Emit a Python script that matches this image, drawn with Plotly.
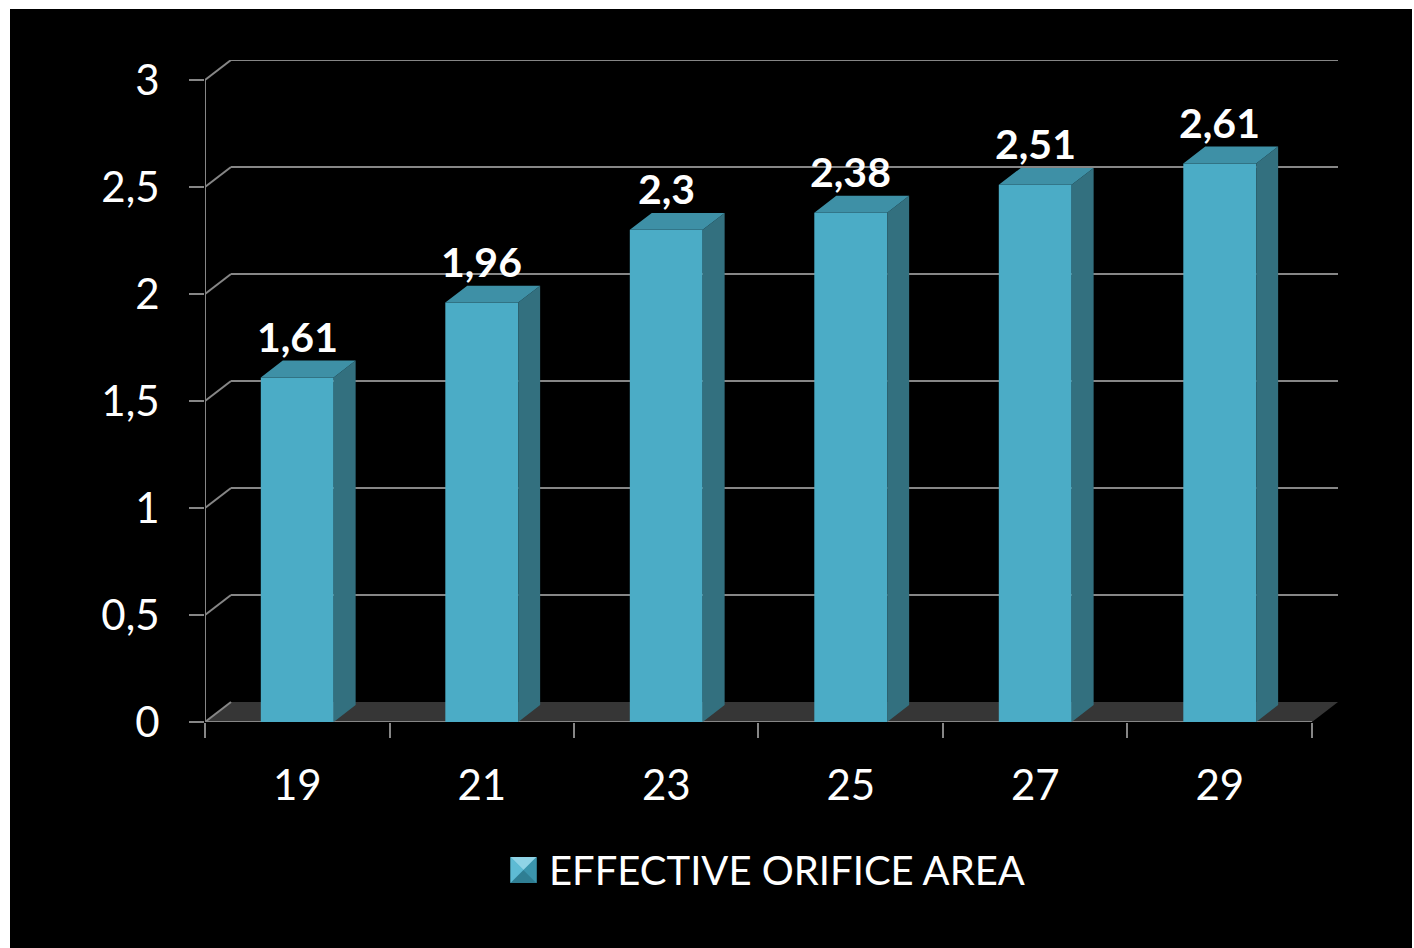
import plotly.graph_objects as go

# Valve sizes (mm) and mean effective orifice area (cm²)
sizes = ["19", "21", "23", "25", "27", "29"]
eoa = [1.61, 1.96, 2.3, 2.38, 2.51, 2.61]
value_labels = ["1,61", "1,96", "2,3", "2,38", "2,51", "2,61"]
y_ticks = [0, 0.5, 1, 1.5, 2, 2.5, 3]
y_tick_labels = ["0", "0,5", "1", "1,5", "2", "2,5", "3"]
series_name = "EFFECTIVE ORIFICE AREA"

FONT = "Lato"
FRONT = "#4BACC6"
SIDE = "#33707F"
TOP = "#3E90A6"
GRID = "#868686"
FLOOR = "#363636"

# pseudo-3D geometry in data units
BAR_W = 0.395
BAR_DX, BAR_DY = 0.119, 0.079
WALL_DX, WALL_DY = 0.141, 0.0935

xpos = list(range(len(sizes)))
n = len(sizes)
x_lo, x_hi = -0.5, n - 0.5

# figure pixel layout
W, H = 1414, 948
ML, MR, MT, MB = 205, 76, 60, 226
PW, PH = W - ML - MR, H - MT - MB


def px(p):
    return (p - ML) / PW


def py(q):
    return (H - MB - q) / PH


fig = go.Figure()

# front faces
fig.add_trace(go.Bar(
    x=xpos, y=eoa, width=BAR_W, marker=dict(color=FRONT, line=dict(width=0)),
    name=series_name, showlegend=False, hoverinfo="skip",
))

# side and top faces
side_x, side_y, top_x, top_y = [], [], [], []
for x, v in zip(xpos, eoa):
    r = x + BAR_W / 2
    l = x - BAR_W / 2
    side_x += [r, r + BAR_DX, r + BAR_DX, r, r, None]
    side_y += [0, BAR_DY, v + BAR_DY, v, 0, None]
    top_x += [l, r, r + BAR_DX, l + BAR_DX, l, None]
    top_y += [v, v, v + BAR_DY, v + BAR_DY, v, None]

fig.add_trace(go.Scatter(x=side_x, y=side_y, mode="lines", fill="toself",
                         fillcolor=SIDE, line=dict(width=0, color=SIDE),
                         showlegend=False, hoverinfo="skip"))
fig.add_trace(go.Scatter(x=top_x, y=top_y, mode="lines", fill="toself",
                         fillcolor=TOP, line=dict(width=0, color=TOP),
                         showlegend=False, hoverinfo="skip"))

shapes = []
# black panel
shapes.append(dict(type="rect", xref="paper", yref="paper", layer="below",
                   x0=px(10), x1=px(1412), y0=py(948), y1=py(9),
                   fillcolor="black", line=dict(width=0)))
# floor
shapes.append(dict(type="path", xref="x", yref="y", layer="below",
                   path=f"M{x_lo},0 L{x_hi},0 L{x_hi + WALL_DX},{WALL_DY} "
                        f"L{x_lo + WALL_DX},{WALL_DY} Z",
                   fillcolor=FLOOR, line=dict(width=0)))
# back-wall gridlines with their diagonal connectors
for t in y_ticks:
    shapes.append(dict(type="line", xref="x", yref="y", layer="below",
                       x0=x_lo, y0=t, x1=x_lo + WALL_DX, y1=t + WALL_DY,
                       line=dict(color=GRID, width=2)))
    if t > 0:
        shapes.append(dict(type="line", xref="x", yref="y", layer="below",
                           x0=x_lo + WALL_DX, y0=t + WALL_DY,
                           x1=x_hi + WALL_DX, y1=t + WALL_DY,
                           line=dict(color=GRID, width=2)))
# axis lines
shapes.append(dict(type="line", xref="x", yref="y", layer="below",
                   x0=x_lo, y0=0, x1=x_lo, y1=max(y_ticks),
                   line=dict(color=GRID, width=2)))
shapes.append(dict(type="line", xref="x", yref="y", layer="below",
                   x0=x_lo, y0=0, x1=x_hi, y1=0,
                   line=dict(color=GRID, width=2)))

# legend swatch (bevelled square)
cx, cy, hs = 523.5, 870, 13
L, R, T, B = cx - hs, cx + hs, cy - hs, cy + hs


def tri(pts, color):
    d = "M" + " L".join(f"{px(a)},{py(b)}" for a, b in pts) + " Z"
    return dict(type="path", xref="paper", yref="paper", path=d,
                fillcolor=color, line=dict(width=0))


shapes.append(tri([(L, T), (R, T), (R, B), (L, B)], FRONT))
shapes.append(tri([(L, T), (R, T), (cx, cy)], "#8FD3E6"))
shapes.append(tri([(L, T), (L, B), (cx, cy)], "#5EBBD4"))
shapes.append(tri([(R, T), (R, B), (cx, cy)], "#3B95AD"))
shapes.append(tri([(L, B), (R, B), (cx, cy)], "#2F7E93"))

annotations = []
for x, v, lab in zip(xpos, eoa, value_labels):
    annotations.append(dict(x=x, y=v, xref="x", yref="y", text=f"<b>{lab}</b>",
                            showarrow=False, yshift=41, yanchor="middle",
                            font=dict(family=FONT, size=41, color="white")))
annotations.append(dict(x=px(547), y=py(870), xref="paper", yref="paper",
                        text=series_name, showarrow=False, xanchor="left",
                        yanchor="middle",
                        font=dict(family=FONT, size=40, color="white")))

fig.update_layout(
    width=W, height=H, autosize=False,
    margin=dict(l=ML, r=MR, t=MT, b=MB, pad=0),
    paper_bgcolor="white", plot_bgcolor="rgba(0,0,0,0)",
    showlegend=False, shapes=shapes, annotations=annotations,
    font=dict(family=FONT, color="white", size=40),
    xaxis=dict(range=[x_lo, x_hi + WALL_DX], tickmode="array", tickvals=xpos,
               ticktext=sizes, ticks="", showgrid=False, zeroline=False,
               showline=False, fixedrange=True, ticklabelstandoff=35,
               tickfont=dict(family=FONT, size=42, color="white"),
               minor=dict(tickmode="array",
                          tickvals=[i - 0.5 for i in range(n + 1)],
                          ticks="outside", ticklen=15, tickwidth=2,
                          tickcolor=GRID, showgrid=False)),
    yaxis=dict(range=[0, max(y_ticks) + WALL_DY], tickmode="array",
               tickvals=y_ticks, ticktext=y_tick_labels, ticks="outside",
               ticklen=15, tickwidth=2, tickcolor=GRID, showgrid=False,
               zeroline=False, showline=False, fixedrange=True,
               ticklabelstandoff=21,
               tickfont=dict(family=FONT, size=42, color="white")),
)

fig.write_html("out.html")
